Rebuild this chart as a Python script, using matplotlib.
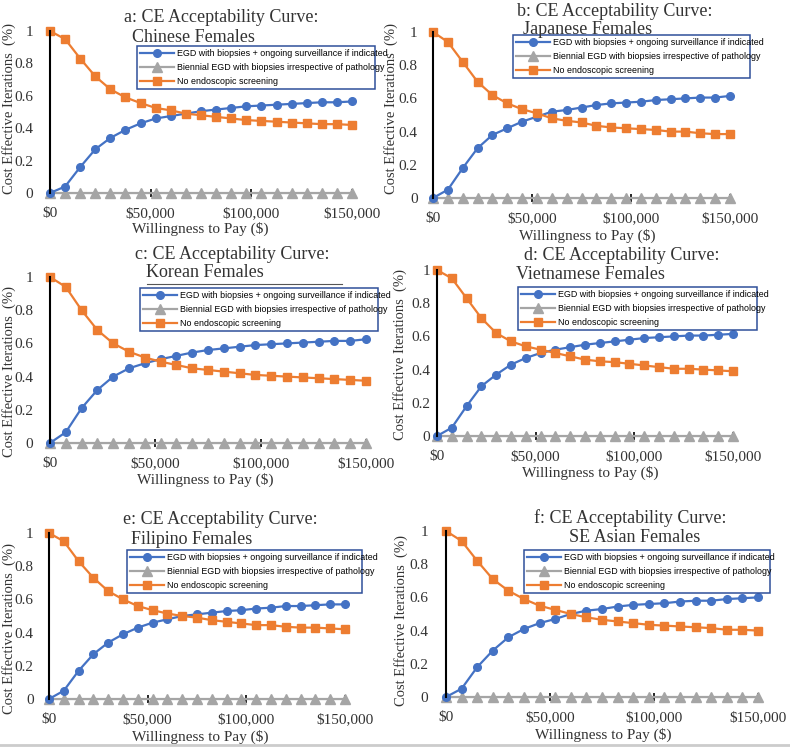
import matplotlib
matplotlib.use("Agg")
import matplotlib.pyplot as plt
from matplotlib.font_manager import FontProperties
from matplotlib.lines import Line2D

# willingness to pay, $7,500 steps
wtp = [i * 7500 for i in range(21)]

titles = ["a: CE Acceptability Curve:", "b: CE Acceptability Curve:",
          "c: CE Acceptability Curve:", "d: CE Acceptability Curve:",
          "e: CE Acceptability Curve:", "f: CE Acceptability Curve:"]
groups = ["Chinese Females", "Japanese Females", "Korean Females",
          "Vietnamese Females", "Filipino Females", "SE Asian Females"]

series_names = ["EGD with biopsies + ongoing surveillance if indicated",
                "Biennial EGD with biopsies irrespective of pathology",
                "No endoscopic screening"]

surv = [
    [0, 0.04, 0.16, 0.27, 0.34, 0.39, 0.43, 0.46, 0.475, 0.49, 0.505, 0.515, 0.525, 0.535, 0.54, 0.545, 0.55, 0.555, 0.56, 0.56, 0.565],
    [0, 0.05, 0.18, 0.30, 0.38, 0.42, 0.46, 0.49, 0.52, 0.53, 0.545, 0.56, 0.57, 0.575, 0.58, 0.59, 0.595, 0.60, 0.605, 0.605, 0.615],
    [0, 0.065, 0.21, 0.32, 0.40, 0.45, 0.48, 0.505, 0.525, 0.545, 0.56, 0.57, 0.58, 0.59, 0.595, 0.60, 0.605, 0.61, 0.615, 0.615, 0.625],
    [0, 0.05, 0.18, 0.30, 0.37, 0.43, 0.47, 0.50, 0.52, 0.535, 0.55, 0.56, 0.57, 0.58, 0.59, 0.595, 0.60, 0.605, 0.605, 0.61, 0.615],
    [0, 0.05, 0.17, 0.27, 0.34, 0.39, 0.43, 0.46, 0.48, 0.50, 0.51, 0.52, 0.53, 0.535, 0.545, 0.55, 0.56, 0.56, 0.565, 0.57, 0.57],
    [0, 0.05, 0.18, 0.28, 0.36, 0.41, 0.445, 0.47, 0.50, 0.52, 0.53, 0.545, 0.555, 0.56, 0.565, 0.575, 0.58, 0.58, 0.59, 0.595, 0.60],
]
biennial = [[0] * 21 for _ in range(6)]
none_scr = [
    [1, 0.95, 0.83, 0.72, 0.64, 0.59, 0.555, 0.525, 0.51, 0.49, 0.48, 0.47, 0.46, 0.45, 0.445, 0.44, 0.435, 0.43, 0.425, 0.425, 0.42],
    [1, 0.94, 0.82, 0.70, 0.62, 0.57, 0.535, 0.51, 0.48, 0.465, 0.455, 0.435, 0.425, 0.42, 0.415, 0.41, 0.40, 0.40, 0.39, 0.385, 0.385],
    [1, 0.94, 0.80, 0.68, 0.60, 0.55, 0.515, 0.49, 0.47, 0.45, 0.44, 0.43, 0.42, 0.41, 0.405, 0.40, 0.395, 0.39, 0.385, 0.38, 0.375],
    [1, 0.95, 0.83, 0.71, 0.62, 0.57, 0.54, 0.52, 0.50, 0.48, 0.46, 0.45, 0.445, 0.435, 0.425, 0.415, 0.405, 0.405, 0.40, 0.395, 0.39],
    [1, 0.95, 0.83, 0.73, 0.65, 0.60, 0.56, 0.535, 0.515, 0.50, 0.49, 0.475, 0.465, 0.455, 0.445, 0.445, 0.435, 0.43, 0.43, 0.425, 0.42],
    [1, 0.94, 0.82, 0.71, 0.64, 0.59, 0.55, 0.525, 0.50, 0.48, 0.465, 0.455, 0.445, 0.435, 0.43, 0.425, 0.42, 0.415, 0.405, 0.405, 0.40],
]

xticks = [0, 50000, 100000, 150000]
xtick_labels = ["$0", "$50,000", "$100,000", "$150,000"]
yticks = [0, 0.2, 0.4, 0.6, 0.8, 1]
ytick_labels = ["0", "0.2", "0.4", "0.6", "0.8", "1"]

W, H = 790, 749
SERIF = "Liberation Serif"
leg_prop = FontProperties(family="Liberation Sans", size=6.4)

blue, grey, orange = "#4472C4", "#A5A5A5", "#ED7D31"

# pixel layout: axes (x at $0, x at $150k, y at 1, y at 0), legend box, title lines, labels
axes_px = [(50, 352, 31, 193), (433, 730, 32, 198), (50, 366, 277, 443),
           (437, 733, 270, 436), (49, 345, 533, 699), (446, 758, 531, 697)]
ytick_pad = [12, 11, 12, 5, 11, 13]
legend_px = [(137, 375, 46, 92), (513, 750, 35, 83), (140, 378, 288, 330),
             (518, 757, 287, 330), (127, 362, 550, 593), (524, 770, 550, 595)]
title1_px = [(221, 17), (615, 12), (232, 254), (622, 256), (220, 520), (630, 518)]
title2_px = [(193, 37), (588, 29), (205, 273), (590, 275), (192, 539), (635, 537)]
xlabel_px = [(200, 229), (587, 236), (205, 480), (590, 473), (200, 737), (603, 735)]
ylabel_px = [(9, 108), (391, 108), (9, 372), (400, 355), (9, 628), (401, 620)]

fig = plt.figure(figsize=(W / 100, H / 100), dpi=100)

def fx(px):
    return px / W

def fy(py):
    return 1 - py / H

for k in range(6):
    x0, x1, y1, y0 = axes_px[k]
    ax = fig.add_axes([fx(x0), fy(y0), fx(x1 - x0), (y0 - y1) / H])
    ax.plot(wtp, surv[k], "-o", color=blue, lw=1.6, markersize=5.5, clip_on=False, zorder=4)
    ax.plot(wtp, biennial[k], "-^", color=grey, lw=1.6, markersize=6.5, clip_on=False, zorder=3)
    ax.plot(wtp, none_scr[k], "-s", color=orange, lw=1.6, markersize=5.5, clip_on=False, zorder=5)
    ax.set_xlim(0, 150000)
    ax.set_ylim(0, 1)
    for s in ["top", "right"]:
        ax.spines[s].set_visible(False)
    ax.spines["left"].set_color("black")
    ax.spines["left"].set_linewidth(1.5)
    ax.spines["left"].set_zorder(6)
    ax.spines["bottom"].set_color(grey)
    ax.set_xticks(xticks)
    ax.set_xticklabels(xtick_labels, fontfamily=SERIF, fontsize=11, color="#333333")
    ax.set_yticks(yticks)
    ax.set_yticklabels(ytick_labels, fontfamily=SERIF, fontsize=11, color="#333333")
    ax.tick_params(axis="y", length=0, pad=ytick_pad[k])
    ax.tick_params(axis="x", direction="inout", length=6, width=1.2, color="black", pad=7)
    ax.patch.set_alpha(0)

    lx0, lx1, ly0, ly1 = legend_px[k]
    leg = ax.legend(series_names, loc="upper left",
                    bbox_to_anchor=(fx(lx0), fy(ly1), fx(lx1 - lx0), (ly1 - ly0) / H),
                    bbox_transform=fig.transFigure, mode="expand", borderaxespad=0,
                    prop=leg_prop, handlelength=3.8,
                    handletextpad=0.4, labelspacing=0.55, borderpad=0.35,
                    fancybox=False, framealpha=1)
    leg.get_frame().set_edgecolor("#2F4F9A")
    leg.get_frame().set_linewidth(1.1)
    leg.set_zorder(10)

    fig.text(fx(title1_px[k][0]), fy(title1_px[k][1]), titles[k], ha="center", va="center",
             fontfamily=SERIF, fontsize=13, color="#333333")
    fig.text(fx(title2_px[k][0]), fy(title2_px[k][1]), groups[k], ha="center", va="center",
             fontfamily=SERIF, fontsize=13, color="#333333")
    fig.text(fx(xlabel_px[k][0]), fy(xlabel_px[k][1]), "Willingness to Pay ($)", ha="center",
             va="center", fontfamily=SERIF, fontsize=11, color="#333333")
    fig.text(fx(ylabel_px[k][0]), fy(ylabel_px[k][1]), "Cost Effective Iterations  (%)",
             ha="center", va="center", rotation=90, fontfamily=SERIF, fontsize=10.5,
             color="#333333")

# stray underline under the Korean title, and bottom separator
fig.add_artist(Line2D([fx(147), fx(342)], [fy(284), fy(284)], color="#555555", lw=0.8))
fig.add_artist(Line2D([0, 1], [fy(745), fy(745)], color="#CCCCCC", lw=2))

fig.savefig("out.png", dpi=100)
